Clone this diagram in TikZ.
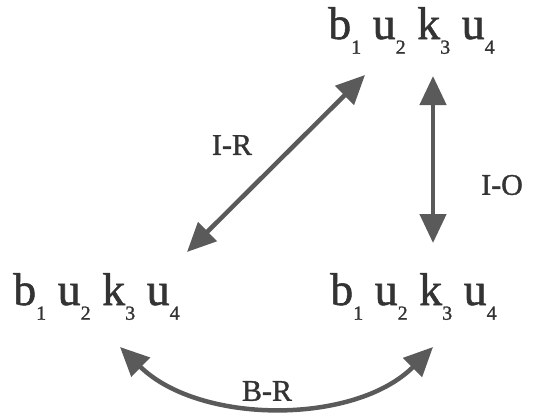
\documentclass[tikz,border=0pt]{standalone}
\usepackage{fontspec}
\setmainfont[FakeBold=1.2]{Liberation Serif}
\usetikzlibrary{arrows.meta}
\definecolor{txt}{HTML}{333333}
\definecolor{arr}{HTML}{5A5A5A}
\newcommand\sbs[1]{\raisebox{-0.32em}{\fontsize{20}{20}\selectfont #1}}
\begin{document}
\begin{tikzpicture}[x=1pt,y=-1pt,
  word/.style={inner sep=0pt,anchor=base west,text=txt,font=\fontsize{46}{46}\selectfont},
  lab/.style={inner sep=0pt,text=txt,font=\fontsize{30}{30}\selectfont},
  conn/.style={draw=arr,line width=4.5pt,{Triangle[length=29pt,width=26pt]}-{Triangle[length=29pt,width=26pt]}}]
\useasboundingbox (0,0) rectangle (534,418);
\node[word] (top) at (328,39) {b\sbs{1} u\sbs{2} k\sbs{3} u\sbs{4}};
\node[word] (bl) at (13,305) {b\sbs{1} u\sbs{2} k\sbs{3} u\sbs{4}};
\node[word] (br) at (330,305) {b\sbs{1} u\sbs{2} k\sbs{3} u\sbs{4}};
\coordinate (irA) at (187,252);
\coordinate (irB) at (365,75);
\coordinate (ioA) at (433,76);
\coordinate (ioB) at (433,243);
\coordinate (brA) at (120,347);
\coordinate (brB) at (433,347);
\draw[conn] (irA) -- (irB);
\draw[conn] (ioA) -- (ioB);
\draw[conn] (brA) .. controls (200,425) and (355,425) .. (brB);
\node[lab] (ir) at (232,145) {I-R};
\node[lab] (io) at (502,185) {I-O};
\node[lab] (brl) at (267,391) {B-R};
\end{tikzpicture}
\end{document}
